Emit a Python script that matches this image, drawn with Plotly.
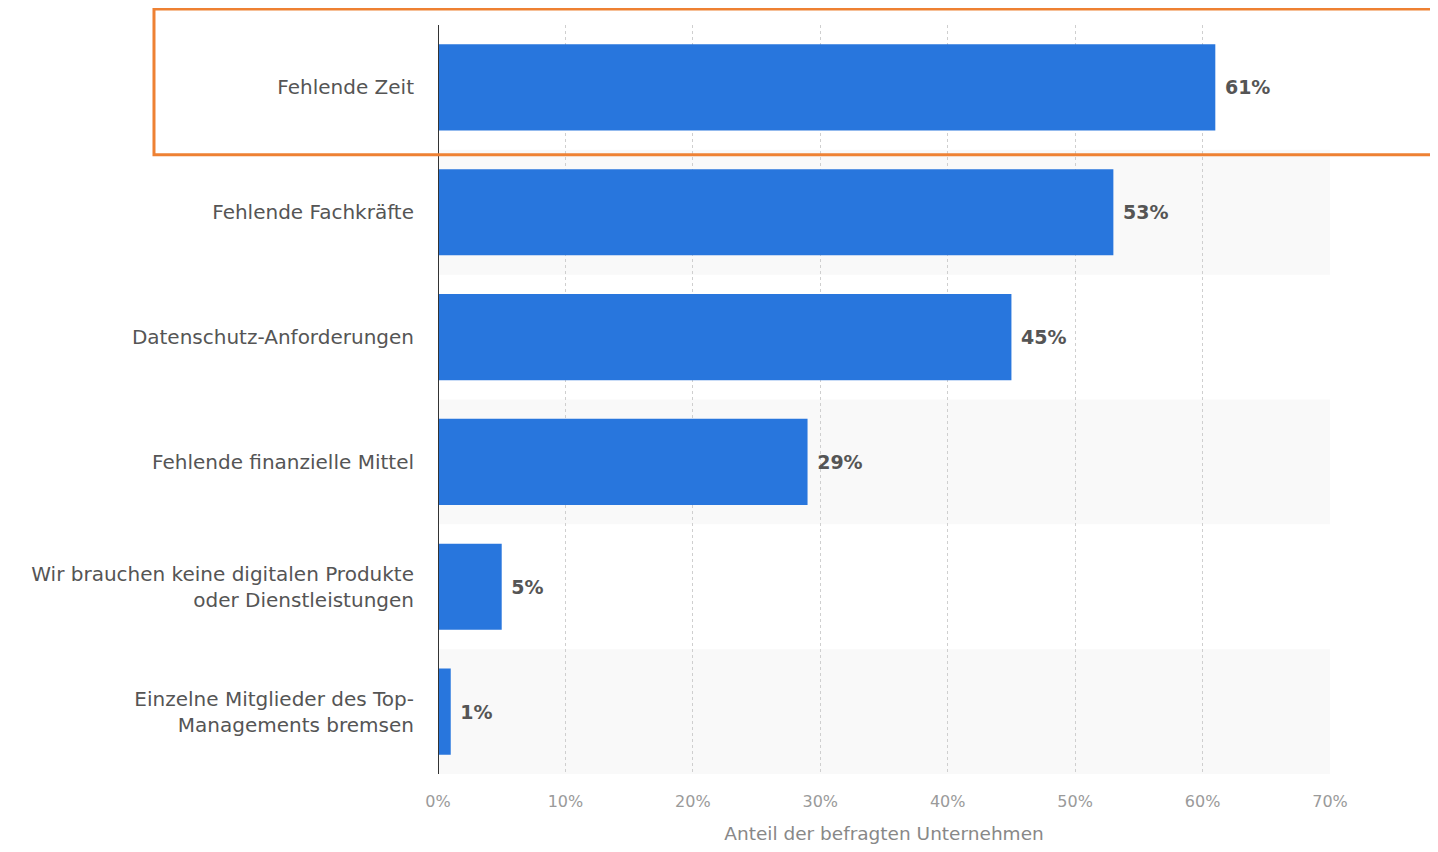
import plotly.graph_objects as go

categories = [
    "Fehlende Zeit",
    "Fehlende Fachkräfte",
    "Datenschutz-Anforderungen",
    "Fehlende finanzielle Mittel",
    "Wir brauchen keine digitalen Produkte<br>oder Dienstleistungen",
    "Einzelne Mitglieder des Top-<br>Managements bremsen",
]
values = [61, 53, 45, 29, 5, 1]
tick_vals = [0, 10, 20, 30, 40, 50, 60, 70]
tick_text = [f"{v}%" for v in tick_vals]
axis_title = "Anteil der befragten Unternehmen"

FONT = "DejaVu Sans, sans-serif"

fig = go.Figure()
fig.add_trace(go.Bar(
    y=categories,
    x=values,
    orientation="h",
    marker=dict(color="#2876dd", line=dict(width=0)),
    texttemplate="\u00a0%{x}%",
    textposition="outside",
    textfont=dict(family=FONT, size=19, color="#555555", weight="bold"),
    cliponaxis=False,
    width=0.69,
    hoverinfo="skip",
))

shapes = []
# alternating light bands on rows 2, 4, 6
for i in range(1, len(categories), 2):
    shapes.append(dict(type="rect", xref="x", yref="y", x0=0, x1=70,
                       y0=i - 0.5, y1=i + 0.5, fillcolor="#f9f9f9",
                       line=dict(width=0), layer="below"))
# left axis line
shapes.append(dict(type="line", xref="x", yref="paper", x0=0, x1=0, y0=0, y1=1,
                   line=dict(color="#333333", width=2), layer="above"))
# orange highlight box around the first row
shapes.append(dict(type="rect", xref="paper", yref="paper",
                   x0=-0.3184, x1=1.125, y0=0.8267, y1=1.0212,
                   line=dict(color="#ee8133", width=3), fillcolor="rgba(0,0,0,0)",
                   layer="above"))

fig.update_layout(
    width=1430, height=844,
    margin=dict(l=430, r=108, t=17, b=74),
    paper_bgcolor="white",
    plot_bgcolor="white",
    showlegend=False,
    shapes=shapes,
    font=dict(family=FONT),
    xaxis=dict(
        range=[0, 70],
        tickvals=tick_vals,
        ticktext=tick_text,
        showgrid=True,
        gridcolor="#cfcfcf",
        griddash="dot",
        gridwidth=1,
        zeroline=False,
        showline=False,
        ticks="outside",
        ticklen=13,
        tickcolor="rgba(0,0,0,0)",
        tickfont=dict(family=FONT, size=16, color="#9a9a9a"),
        title=dict(text=axis_title, font=dict(family=FONT, size=18.5, color="#888888"), standoff=16),
        fixedrange=True,
    ),
    yaxis=dict(
        autorange="reversed",
        showgrid=False,
        zeroline=False,
        showline=False,
        ticks="outside",
        ticklen=19,
        tickcolor="rgba(0,0,0,0)",
        tickfont=dict(family=FONT, size=20, color="#555555"),
        fixedrange=True,
    ),
)

fig.write_html("out.html")
